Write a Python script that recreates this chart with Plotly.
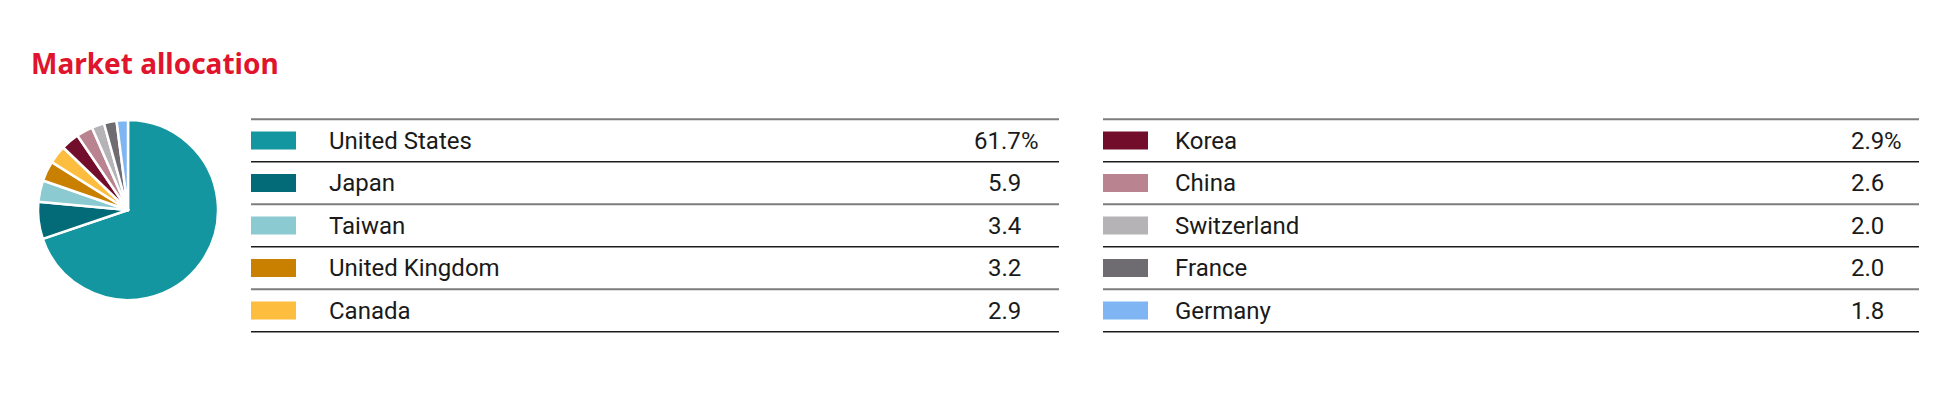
import plotly.graph_objects as go

# market allocation, in % of the fund
countries = ["United States", "Japan", "Taiwan", "United Kingdom", "Canada",
             "Korea", "China", "Switzerland", "France", "Germany"]
weights = [61.7, 5.9, 3.4, 3.2, 2.9, 2.9, 2.6, 2.0, 2.0, 1.8]
colors = ["#13969f", "#036b77", "#8bcad0", "#c97f00", "#fdbe3f",
          "#720d2b", "#b9838f", "#b5b3b5", "#6e6c70", "#7fb5f3"]

W, H = 1950, 400
OFF = 8           # page body margin, px
ROWS = 5
ROW_H = 42.5      # px per table row
ROW0 = 140.5 - OFF  # px, centre of the first row
SWATCH_W = 45
SWATCH_H = 18

# the two table blocks, in px
blocks = [
    dict(x0=251 - OFF, label=327 - OFF, num=1023 - OFF, x1=1059 - OFF),
    dict(x0=1103 - OFF, label=1173 - OFF, num=1886 - OFF, x1=1919 - OFF),
]

FONT = "Roboto"
INK = "#1a1a1a"
RED = "#e0142c"


def row_of(px):
    return (px - ROW0) / ROW_H


fig = go.Figure()

fig.add_trace(go.Pie(
    values=weights, labels=countries, sort=False,
    direction="clockwise", rotation=0, textinfo="none",
    marker=dict(colors=colors, line=dict(color="white", width=2.5)),
    domain=dict(x=[(38 - OFF) / W, (218 - OFF) / W],
                y=[1 - (300 - OFF) / H, 1 - (120 - OFF) / H]),
    showlegend=False,
))

rows = [i % ROWS for i in range(len(countries))]
blk = [blocks[i // ROWS] for i in range(len(countries))]

fig.add_trace(go.Bar(
    orientation="h", y=rows, x=[SWATCH_W] * len(countries),
    base=[b["x0"] for b in blk], width=SWATCH_H / ROW_H,
    marker=dict(color=colors, line_width=0),
    hoverinfo="skip", showlegend=False,
))

annotations = []
for i, (name, val) in enumerate(zip(countries, weights)):
    b = blk[i]
    annotations.append(dict(x=b["label"], y=rows[i], text=name, xanchor="left",
                            yanchor="middle", showarrow=False,
                            font=dict(family=FONT, size=24, color=INK)))
    annotations.append(dict(x=b["num"], y=rows[i], text=f"{val:.1f}", xanchor="right",
                            yanchor="middle", showarrow=False,
                            font=dict(family=FONT, size=24, color=INK)))
    if rows[i] == 0:
        annotations.append(dict(x=b["num"], y=rows[i], text="%", xanchor="left",
                                xshift=-4, yanchor="middle", showarrow=False,
                                font=dict(family=FONT, size=24, color=INK)))

annotations.append(dict(x=29 - OFF, y=row_of(63 - OFF), text="<b>Market allocation</b>",
                        xanchor="left", yanchor="middle", showarrow=False,
                        font=dict(family="Noto Sans", size=28, color=RED)))

shapes = []
for b in blocks:
    for k in range(ROWS + 1):
        shapes.append(dict(type="line", xref="x", yref="y",
                           x0=b["x0"], x1=b["x1"], y0=k - 0.5, y1=k - 0.5,
                           line=dict(color="#7d7d7d" if k % 2 == 0 else "#1c1c1c",
                                     width=2 if k % 2 == 0 else 1.5)))

fig.update_layout(
    width=W, height=H, margin=dict(l=0, r=0, t=0, b=0),
    paper_bgcolor="white", plot_bgcolor="white",
    barmode="overlay", showlegend=False,
    xaxis=dict(range=[0, W], visible=False, fixedrange=True),
    yaxis=dict(range=[row_of(H), row_of(0)], visible=False, fixedrange=True),
    annotations=annotations, shapes=shapes,
)

fig.write_html("out.html")
